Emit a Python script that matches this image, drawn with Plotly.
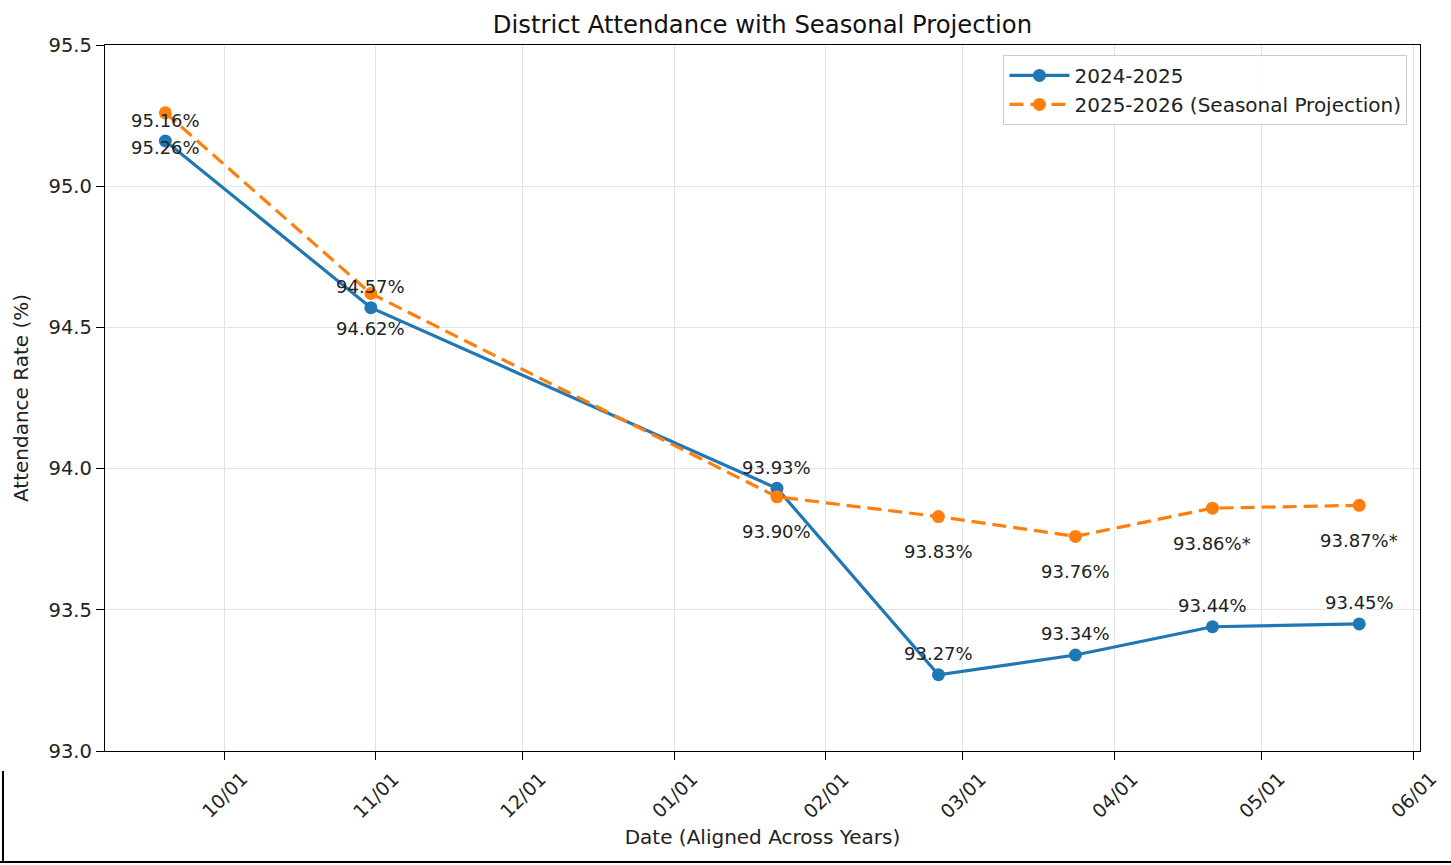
import plotly.graph_objects as go

dates = ["2024-09-19", "2024-10-31", "2025-01-22", "2025-02-24", "2025-03-24", "2025-04-21", "2025-05-21"]
rate_2425 = [95.16, 94.57, 93.93, 93.27, 93.34, 93.44, 93.45]
rate_2526 = [95.26, 94.62, 93.90, 93.83, 93.76, 93.86, 93.87]
proj_flag = [False, False, False, False, False, True, True]
tick_vals = ["2024-10-01", "2024-11-01", "2024-12-01", "2025-01-01", "2025-02-01",
             "2025-03-01", "2025-04-01", "2025-05-01", "2025-06-01"]
tick_text = ["10/01", "11/01", "12/01", "01/01", "02/01", "03/01", "04/01", "05/01", "06/01"]

BLUE = "#1f77b4"
ORANGE = "#ff7f0e"
FONT = "DejaVu Sans"

fig = go.Figure()
fig.add_trace(go.Scatter(x=dates, y=rate_2425, mode="lines+markers", name="2024-2025",
                         line=dict(color=BLUE, width=3.2), marker=dict(size=13, color=BLUE)))
fig.add_trace(go.Scatter(x=dates, y=rate_2526, mode="lines+markers", name="2025-2026 (Seasonal Projection)",
                         line=dict(color=ORANGE, width=3.2, dash="14px,7px"), marker=dict(size=13, color=ORANGE)))

ann = []
for d, v in zip(dates, rate_2425):
    ann.append(dict(x=d, y=v, text=f"{v:.2f}%", showarrow=False, yshift=21,
                    font=dict(size=18, color="#222", family=FONT)))
for d, v, p in zip(dates, rate_2526, proj_flag):
    ann.append(dict(x=d, y=v, text=f"{v:.2f}%" + ("*" if p else ""), showarrow=False, yshift=-35,
                    font=dict(size=18, color="#222", family=FONT)))
# rotated x tick labels, centred under each tick (matplotlib style)
for tv, tt in zip(tick_vals, tick_text):
    ann.append(dict(x=tv, y=-15 / 706, xref="x", yref="paper", text=tt, textangle=-45,
                    showarrow=False, xanchor="center", yanchor="top", borderpad=0,
                    font=dict(size=19, color="#222", family=FONT)))

fig.update_layout(
    width=1451, height=865,
    margin=dict(l=105, r=31, t=45, b=114, autoexpand=False),
    paper_bgcolor="white", plot_bgcolor="white",
    font=dict(family=FONT, size=20, color="#222"),
    title=dict(text="District Attendance with Seasonal Projection", x=(105 + 1420) / 2 / 1451, xanchor="center",
               y=1 - 24 / 865, yanchor="middle", font=dict(size=24.3, color="#111")),
    annotations=ann,
    legend=dict(x=0.9935 - 4 / 1315, y=0.986, xanchor="right", yanchor="top",
                bordercolor="#cccccc", borderwidth=1, bgcolor="rgba(255,255,255,0.85)",
                font=dict(size=20, color="#222"), tracegroupgap=0, itemwidth=60),
    shapes=[
        dict(type="line", xref="paper", yref="paper", x0=-105 / 1315, x1=1.05, y0=-111 / 706, y1=-111 / 706,
             line=dict(color="black", width=2)),
        dict(type="line", xref="paper", yref="paper", x0=-102 / 1315, x1=-102 / 1315, y0=-20 / 706, y1=-111 / 706,
             line=dict(color="black", width=2)),
    ],
)
fig.update_xaxes(range=["2024-09-06 16:00", "2025-06-02 10:00"], tickvals=tick_vals, showticklabels=False,
                 showgrid=True, gridcolor="#e4e4e4", gridwidth=1,
                 showline=True, linecolor="black", linewidth=1.3, mirror=True,
                 ticks="outside", ticklen=8, tickcolor="black",
                 title=dict(text="Date (Aligned Across Years)", font=dict(size=20), standoff=70),
                 zeroline=False)
fig.update_yaxes(range=[93.0, 95.5], dtick=0.5, tickformat=".1f",
                 showgrid=True, gridcolor="#e4e4e4", gridwidth=1,
                 showline=True, linecolor="black", linewidth=1.3, mirror=True,
                 ticks="outside", ticklen=8, tickcolor="black", tickfont=dict(size=19.5, color="#222"),
                 title=dict(text="Attendance Rate (%)", font=dict(size=20), standoff=14),
                 zeroline=False)

fig.write_html("out.html", config={"displayModeBar": False},
               post_script="document.body.style.margin='0px';document.body.style.overflow='hidden';")
